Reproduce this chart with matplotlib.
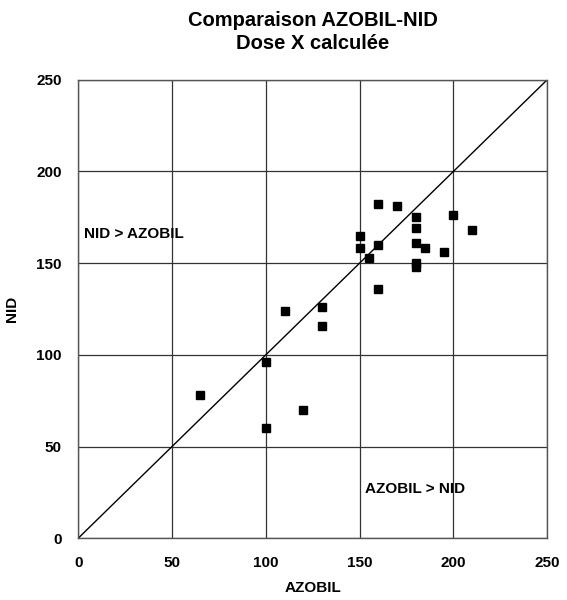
import matplotlib
matplotlib.use('Agg')
import matplotlib.pyplot as plt

# values
azobil = [160, 170, 180, 200, 210, 180, 150, 150, 160, 180, 185, 195, 155,
          180, 180, 160, 110, 130, 130, 65, 100, 120, 100]
nid = [182, 181, 175, 176, 168, 169, 165, 158, 160, 161, 158, 156, 153,
       150, 148, 136, 124, 126, 116, 78, 96, 70, 60]
ticks = [0, 50, 100, 150, 200, 250]

plt.rcParams['font.family'] = ['Liberation Sans', 'DejaVu Sans']
plt.rcParams['font.weight'] = 'bold'

fig = plt.figure(figsize=(5.67, 6.0), dpi=100)
ax = fig.add_axes([0.138, 0.103, 0.827, 0.764])

# grid + identity line
ax.grid(True, color='#333333', linewidth=0.9)
ax.set_axisbelow(True)
ax.plot([0, 250], [0, 250], color='black', linewidth=1.0, zorder=2)
ax.plot(azobil, nid, linestyle='none', marker='s', markersize=6,
        color='black', zorder=3)

ax.set_xlim(0, 250)
ax.set_ylim(0, 250)
ax.set_xticks(ticks)
ax.set_yticks(ticks)
ax.tick_params(length=0, labelsize=11)
ax.tick_params(axis='x', pad=13)
ax.tick_params(axis='y', pad=12)
for lbl in ax.get_xticklabels() + ax.get_yticklabels():
    lbl.set_fontweight('bold')
for s in ax.spines.values():
    s.set_color('#555555')
    s.set_linewidth(1.0)

ax.set_xlabel('AZOBIL', fontsize=11, fontweight='bold', labelpad=8)
ax.set_ylabel('NID', fontsize=11, fontweight='bold', labelpad=12)
ax.set_title('Comparaison AZOBIL-NID\nDose X calculée', fontsize=14.5,
             fontweight='bold', pad=22, linespacing=1.25)

ax.text(3, 166, 'NID > AZOBIL', fontsize=11, fontweight='bold',
        va='center', ha='left')
ax.text(153, 27, 'AZOBIL > NID', fontsize=11, fontweight='bold',
        va='center', ha='left')

fig.savefig('out.png', dpi=100)
